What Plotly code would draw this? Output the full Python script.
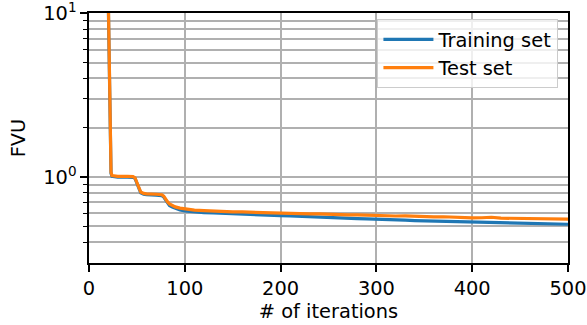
import plotly.graph_objects as go

# ---- data ----
iters = [0, 10, 20, 23, 24, 30, 40, 46, 48, 50, 52, 54, 57, 60, 70, 76, 78, 80, 82, 84, 87, 90, 95, 100,
         110, 120, 130, 140, 150, 160, 170, 180, 190, 200,
         210, 220, 230, 240, 250, 260, 270, 280, 290, 300,
         310, 320, 330, 340, 350, 360, 370, 380, 390, 400,
         410, 420, 430, 440, 450, 460, 470, 480, 490, 500]

train_fvu = [90, 40, 13, 1.05, 1.01, 1.0, 1.0, 0.995, 0.98, 0.92, 0.84, 0.80, 0.785, 0.78, 0.775, 0.77, 0.755, 0.72, 0.69, 0.67, 0.655, 0.643, 0.630, 0.620,
             0.611, 0.606, 0.603, 0.599, 0.597, 0.593, 0.591, 0.587, 0.585, 0.581,
             0.579, 0.575, 0.573, 0.569, 0.567, 0.563, 0.561, 0.557, 0.555, 0.551,
             0.550, 0.546, 0.545, 0.542, 0.540, 0.537, 0.536, 0.533, 0.532, 0.529,
             0.528, 0.526, 0.525, 0.523, 0.522, 0.520, 0.520, 0.517, 0.517, 0.515]

test_fvu = [95, 42, 14, 1.07, 1.02, 1.01, 1.01, 1.005, 0.99, 0.93, 0.85, 0.81, 0.795, 0.79, 0.785, 0.78, 0.765, 0.73, 0.705, 0.685, 0.668, 0.657, 0.646, 0.638,
            0.628, 0.624, 0.619, 0.617, 0.613, 0.612, 0.609, 0.608, 0.604, 0.603,
            0.600, 0.599, 0.596, 0.596, 0.592, 0.591, 0.588, 0.588, 0.584, 0.582,
            0.581, 0.578, 0.579, 0.575, 0.574, 0.571, 0.572, 0.568, 0.566, 0.563,
            0.564, 0.568, 0.561, 0.560, 0.558, 0.557, 0.556, 0.554, 0.555, 0.553]

x_ticks = [0, 100, 200, 300, 400, 500]
y_major = [1, 10]
y_major_text = ["10<sup>0</sup>", "10<sup>1</sup>"]
y_minor = [0.4, 0.5, 0.6, 0.7, 0.8, 0.9, 2, 3, 4, 5, 6, 7, 8, 9]

FONT = "DejaVu Sans"
FS = 19.4
GRID = "#b0b0b0"

fig = go.Figure()
fig.add_trace(go.Scatter(x=iters, y=train_fvu, mode="lines", name="Training set",
                         line=dict(color="#1f77b4", width=3.2), legendgroup="a"))
fig.add_trace(go.Scatter(x=iters, y=test_fvu, mode="lines", name="Test set",
                         line=dict(color="#ff7f0e", width=3.2), legendgroup="b"))

fig.update_layout(
    width=587, height=325,
    margin=dict(l=88.5, r=18.5, t=12.7, b=61.7, autoexpand=False),
    paper_bgcolor="white", plot_bgcolor="white",
    font=dict(family=FONT, size=FS, color="black"),
    showlegend=True,
    legend=dict(x=0.98, y=0.975, xanchor="right", yanchor="top",
                bgcolor="rgba(255,255,255,0.8)", bordercolor="#cccccc", borderwidth=1,
                font=dict(family=FONT, size=FS), tracegroupgap=4, traceorder="normal",
                itemwidth=50),
    xaxis=dict(range=[0, 500], tickmode="array", tickvals=x_ticks, automargin=False,
               showgrid=True, gridcolor=GRID, gridwidth=1.5, zeroline=False,
               showline=True, linecolor="black", linewidth=1.5, mirror=True,
               ticks="outside", ticklen=6.8, tickwidth=1.5, tickcolor="black",
               tickfont=dict(size=FS), ticklabeloverflow="allow",
               title=dict(text="# of iterations", standoff=5, font=dict(size=FS))),
    yaxis=dict(type="log", range=[-0.525, 1.002], tickmode="array", tickvals=y_major,
               ticktext=y_major_text, automargin=False, ticklabeloverflow="allow",
               showgrid=True, gridcolor=GRID, gridwidth=1.5, zeroline=False,
               showline=True, linecolor="black", linewidth=1.5, mirror=True,
               ticks="outside", ticklen=6.8, tickwidth=1.5, tickcolor="black",
               tickfont=dict(size=FS),
               minor=dict(tickmode="array", tickvals=y_minor, showgrid=True,
                          gridcolor=GRID, gridwidth=1.5, ticks="outside",
                          ticklen=3.9, tickwidth=1.2, tickcolor="black"),
               title=dict(text="FVU", standoff=12, font=dict(size=FS))),
)

fig.write_html("out.html")
